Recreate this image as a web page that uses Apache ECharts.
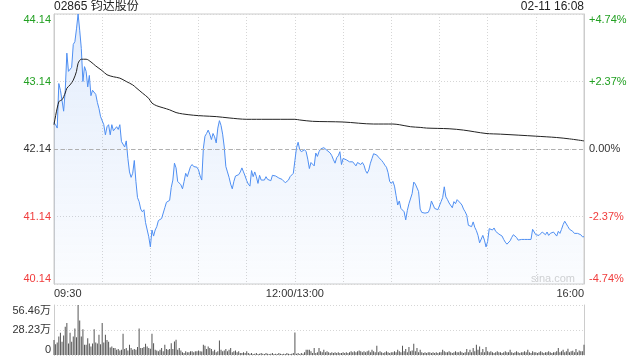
<!DOCTYPE html>
<html><head><meta charset="utf-8">
<script src="https://cdn.jsdelivr.net/npm/echarts@6/dist/echarts.min.js"></script>
<style>html,body{margin:0;padding:0;background:#fff}#c{width:640px;height:360px}</style>
</head><body><div id="c"></div>
<script>
const stockTitle = '02865 钧达股份';
const stamp = '02-11 16:08';
const prevClose = 42.14;
const priceMin = 40.14, priceMax = 44.14, priceStep = 1;
const pctMax = 4.74, pctStep = 2.37;
const volMax = 56.46, volStep = 28.23;
const timeLabels = {0: '09:30', 150: '12:00/13:00', 330: '16:00'};

// one price per trading minute (index 0 = 09:30, 150 = 12:00/13:00, 330 = 16:00)
const prices = [
42.53,42.50,42.45,43.11,43.01,42.86,42.70,43.01,43.56,43.29,
43.29,43.35,43.69,43.73,43.92,44.14,43.90,43.63,43.14,43.36,
43.29,43.06,43.23,42.93,43.01,43.02,42.95,42.83,42.74,42.62,
42.64,42.50,42.35,42.47,42.50,42.35,42.50,42.41,42.40,42.47,
42.43,42.50,42.25,42.26,42.17,42.26,42.00,41.80,41.72,41.78,
41.97,41.66,41.42,41.36,41.25,41.21,41.24,41.05,41.06,40.84,
40.69,40.94,40.85,40.94,40.99,41.08,41.10,41.11,41.11,41.27,
41.35,41.34,41.38,41.57,41.68,41.93,41.86,41.66,41.64,41.61,
41.55,41.66,41.78,41.73,41.75,41.88,41.91,41.88,41.88,41.87,
41.83,41.74,41.68,42.15,42.33,42.37,42.42,42.36,42.28,42.37,
42.32,42.23,42.45,42.56,42.49,42.36,42.17,41.88,41.80,41.72,
41.62,41.55,41.66,41.74,41.76,41.76,41.80,41.86,41.80,41.74,
41.67,41.62,41.59,41.82,41.73,41.80,41.73,41.63,41.75,41.68,
41.68,41.68,41.73,41.69,41.70,41.67,41.75,41.76,41.74,41.72,
41.71,41.70,41.69,41.68,41.64,41.63,41.68,41.73,41.73,41.78,
41.97,42.16,42.24,42.13,42.10,42.10,42.13,42.10,41.99,41.85,
41.94,41.93,41.89,42.08,42.03,42.10,42.14,42.14,42.16,42.15,
42.12,42.10,42.08,42.04,41.98,41.93,42.01,42.04,42.10,41.91,
42.00,41.98,41.98,41.98,41.95,41.97,41.95,41.93,41.89,41.94,
41.93,41.91,41.94,41.90,41.82,41.78,41.83,41.93,42.00,42.07,
42.09,42.05,42.02,42.00,41.97,41.94,41.90,41.87,41.79,41.66,
41.63,41.66,41.59,41.45,41.31,41.37,41.26,41.28,41.21,41.09,
41.23,41.33,41.34,41.48,41.65,41.62,41.60,41.51,41.25,41.20,
41.19,41.19,41.20,41.20,41.25,41.37,41.39,41.26,41.24,41.24,
41.22,41.36,41.42,41.58,41.43,41.39,41.34,41.33,41.27,41.36,
41.33,41.39,41.37,41.34,41.31,41.25,41.21,41.16,41.01,41.03,
40.99,41.06,40.98,40.93,40.86,40.75,40.73,40.86,40.79,40.69,
40.77,40.96,40.95,40.94,40.97,40.92,40.90,40.88,40.87,40.85,
40.80,40.76,40.73,40.73,40.78,40.83,40.87,40.87,40.83,40.79,
40.79,40.80,40.79,40.80,40.80,40.80,40.80,40.80,40.95,40.94,
40.87,40.85,40.86,40.85,40.91,40.91,40.87,40.91,40.86,40.89,
40.87,40.91,40.88,40.85,40.92,40.89,40.95,41.02,41.07,41.09,
40.99,40.95,40.93,40.92,40.89,40.87,40.89,40.91,40.87,40.84,
40.84
];

// average price line, read at selected minutes
const avgMinutes = [0,3,5,7,8,10,12,14,15,17,20,23,26,30,33,37,41,45,49,51,53,55,59,61,64,68,72,76,80,87,93,101,109,120,132,150,153,161,180,199,211,215,222,228,232,246,255,269,278,300,313,321,330];
const avgPrices = [42.50,42.84,42.87,42.97,43.04,43.09,43.16,43.29,43.41,43.47,43.47,43.43,43.37,43.30,43.24,43.21,43.19,43.14,43.09,43.05,43.01,42.97,42.89,42.82,42.78,42.75,42.72,42.68,42.66,42.64,42.63,42.62,42.60,42.58,42.58,42.58,42.57,42.55,42.54,42.51,42.51,42.50,42.47,42.46,42.45,42.44,42.42,42.37,42.36,42.33,42.31,42.29,42.26];

// volume per minute, 万股
const volumes = [
17,12,14,21,25,15,22,32,36,13,
25,15,21,30,20,56.46,39,21,29,11.5,
11.5,19,13,9.7,13,29,14,13,23,12,
36,14,23,17,15,8.5,9.7,7.8,7.8,5.9,
6.7,5.2,5.9,24,6.7,7.8,5.2,11.5,7.8,5.9,
6.7,5.9,8.9,30,7.8,7.8,8.9,12.6,9.7,7.8,
7,24,13.4,5.9,5.2,4.1,5.9,7.8,4.1,11.5,
6.7,5.9,6.7,13.4,6.7,15.2,17.1,5.9,7.8,5.2,
3.0,2.2,4.1,3.0,3.0,4.1,4.1,3.0,4.1,4.1,
5.2,4.1,4,11.5,10.4,6.7,9.7,7.8,6.7,4.1,
5.9,3.0,4.1,16.3,5.9,4.1,5.2,6.7,4.1,5.9,
7.8,3.0,4.1,5.2,3.0,4.1,2.2,2.2,3.0,2.2,
4.1,2.2,1.5,2.2,1.1,1.5,2.2,1.1,1.5,2.2,
1.5,1.1,2.2,1.5,1.1,1.5,2.2,1.1,1.5,1.1,
2.2,1.5,1.1,1.5,1.1,2.2,1.5,1.1,1.5,2.2,
25.3,1.5,2.2,1.1,2.2,1.5,3.0,5.9,5.9,5.9,
4.1,2.2,7.8,2.2,3.0,7.8,4.1,3.0,5.9,3.0,
4.1,3.0,2.2,3.0,2.2,3.0,2.2,3.0,2.2,2.2,
3.0,2.2,3.0,2.2,3.0,4.1,3.0,4.1,3.0,4.1,
5.2,4.1,3.0,4.1,3.0,4.1,5.2,3.0,5.9,4.1,
3.0,10.4,3.0,4.1,3.0,2.2,3.0,4.1,3.0,2.2,
3.0,3.0,4.1,3.0,5.9,4.1,3.0,10.4,4.1,6.7,
3.0,8.9,4.1,5.2,12.6,4.1,7.8,3.0,5.9,3.0,
2.2,3.0,2.2,3.0,3.0,2.2,3.0,2.2,3.0,2.2,
3.0,3.0,5.9,4.1,3.0,3.0,4.1,3.0,2.2,3.0,
4.1,3.0,3.0,4.1,3.0,2.2,3.0,6.7,3.0,5.9,
3.0,7.8,4.1,11.5,5.9,9.7,3.0,6.7,3.0,8.9,
4.1,3.0,4.1,3.0,2.2,3.0,4.1,3.0,3.0,2.2,
3.0,4.1,3.0,3.0,5.9,3.0,2.2,3.0,4.1,3.0,
2.2,3.0,3.0,4.1,3.0,5.9,3.0,2.2,4.1,3.0,
3.0,2.2,3.0,4.1,3.0,2.2,3.0,3.0,4.1,3.0,
2.2,3.0,3.0,4.1,7.8,3.0,4.1,5.9,3.0,4.1,
7.1,3.0,4.1,4.8,3.0,6.7,3.0,5.2,4.1,4.1,
11.5
];

const UP = '#22a022', DOWN = '#f03c3c', FLAT = '#333';
const FONT = '"Liberation Sans", Arial, "Noto Sans CJK SC", sans-serif';
const dotted = {color: '#d6d6d6', type: [1, 2], width: 1};
function priceColor(v) {
  v = parseFloat(v);
  if (v > prevClose + 0.001) return UP;
  if (v < prevClose - 0.001) return DOWN;
  return FLAT;
}
function pctColor(v) {
  v = parseFloat(v);
  if (v > 0.001) return UP;
  if (v < -0.001) return DOWN;
  return FLAT;
}

const chart = echarts.init(document.getElementById('c'), null, {renderer: 'canvas'});
chart.setOption({
  animation: false,
  textStyle: {fontFamily: FONT},
  title: [
    {text: stockTitle, left: 54, top: 1, padding: 0, textStyle: {fontSize: 12, fontWeight: 'normal', color: '#222', fontFamily: FONT}},
    {text: stamp, right: 56, top: 1, padding: 0, textStyle: {fontSize: 12, fontWeight: 'normal', color: '#222', fontFamily: FONT}}
  ],
  graphic: [
    {type: 'text', left: 531, top: 273, silent: true, style: {text: 'sina.com', fill: '#d2d2d2', font: '11px ' + FONT}}
  ],
  grid: [
    {left: 54, right: 56, top: 14, height: 270, show: true, borderColor: '#cccccc', borderWidth: 1},
    {left: 54, right: 56, top: 305, height: 50}
  ],
  xAxis: [
    {type: 'value', gridIndex: 0, min: 0, max: 330, interval: 30,
     axisLine: {show: false}, axisTick: {show: false},
     axisLabel: {formatter: v => timeLabels[v] || '', color: '#333', fontSize: 11, margin: 4,
                 alignMinLabel: 'left', alignMaxLabel: 'right', showMinLabel: true, showMaxLabel: true, hideOverlap: false},
     splitLine: {show: true, lineStyle: dotted}},
    {type: 'value', gridIndex: 1, min: 0, max: 330, interval: 30,
     axisLine: {show: false}, axisTick: {show: false}, axisLabel: {show: false}, splitLine: {show: false}}
  ],
  yAxis: [
    {type: 'value', gridIndex: 0, min: priceMin, max: priceMax, interval: priceStep, position: 'left',
     axisLine: {show: true, lineStyle: {color: '#cccccc'}}, axisTick: {show: false},
     axisLabel: {formatter: v => v.toFixed(2), color: priceColor, fontSize: 11, margin: 3,
                 verticalAlignMinLabel: 'bottom', verticalAlignMaxLabel: 'top'},
     splitLine: {show: true, lineStyle: dotted}},
    {type: 'value', gridIndex: 0, min: -pctMax, max: pctMax, interval: pctStep, position: 'right',
     axisLine: {show: true, lineStyle: {color: '#cccccc'}}, axisTick: {show: false},
     axisLabel: {formatter: v => (Math.abs(v) < 1e-6 ? '0.00' : (v > 0 ? '+' : '') + v.toFixed(2)) + '%',
                 color: pctColor, fontSize: 11, margin: 5,
                 verticalAlignMinLabel: 'bottom', verticalAlignMaxLabel: 'top'},
     splitLine: {show: false}},
    {type: 'value', gridIndex: 1, min: 0, max: volMax, interval: volStep, position: 'left',
     axisLine: {show: true, lineStyle: {color: '#cccccc'}}, axisTick: {show: false},
     axisLabel: {formatter: v => v === 0 ? '0' : v.toFixed(2) + '万', color: '#333', fontSize: 11, margin: 3,
                 verticalAlignMinLabel: 'bottom', verticalAlignMaxLabel: 'top'},
     splitLine: {show: true, lineStyle: dotted}},
    {type: 'value', gridIndex: 1, min: 0, max: volMax, position: 'right',
     axisLine: {show: true, lineStyle: {color: '#cccccc'}}, axisTick: {show: false},
     axisLabel: {show: false}, splitLine: {show: false}}
  ],
  series: [
    {type: 'line', xAxisIndex: 0, yAxisIndex: 0, z: 3,
     data: prices.map((p, i) => [i, p]), showSymbol: false, symbol: 'none',
     lineStyle: {color: '#4f8ff2', width: 1},
     areaStyle: {origin: 'start', color: new echarts.graphic.LinearGradient(0, 0, 0, 1, [
       {offset: 0, color: 'rgba(70,135,235,0.22)'}, {offset: 1, color: 'rgba(70,135,235,0.03)'}])},
     markLine: {silent: true, symbol: 'none', label: {show: false},
       lineStyle: {color: '#b0b0b0', type: [4, 3], width: 1},
       data: [{yAxis: prevClose}]}},
    {type: 'line', xAxisIndex: 0, yAxisIndex: 0, z: 4,
     data: avgMinutes.map((m, i) => [m, avgPrices[i]]), showSymbol: false, symbol: 'none', smooth: 0.3,
     lineStyle: {color: '#222', width: 1}},
    {type: 'bar', xAxisIndex: 1, yAxisIndex: 2,
     data: volumes.map((v, i) => [i, v]), barWidth: 1,
     itemStyle: {color: '#555'}}
  ]
});
</script></body></html>
